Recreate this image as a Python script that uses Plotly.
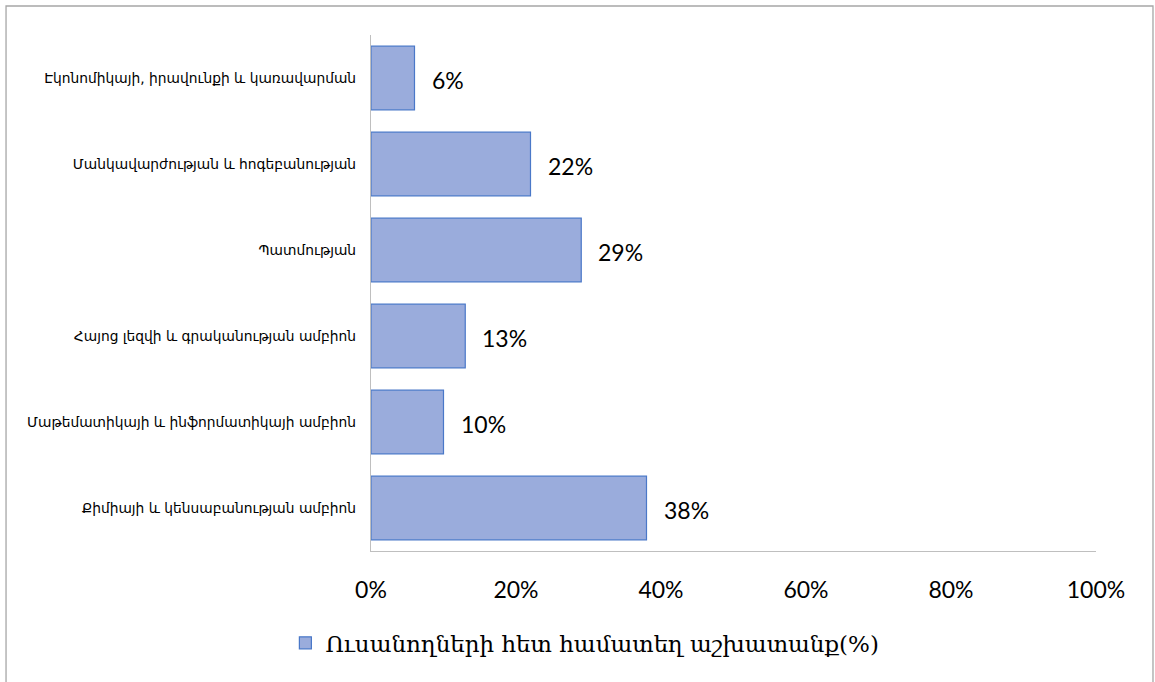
import plotly.graph_objects as go

categories = [
    "Էկոնոմիկայի, իրավունքի և կառավարման",
    "Մանկավարժության և հոգեբանության",
    "Պատմության",
    "Հայոց լեզվի և գրականության ամբիոն",
    "Մաթեմատիկայի և ինֆորմատիկայի ամբիոն",
    "Քիմիայի և կենսաբանության ամբիոն",
]
values = [0.06, 0.22, 0.29, 0.13, 0.10, 0.38]
value_labels = ["6%", "22%", "29%", "13%", "10%", "38%"]
series_name = "Ուսանողների հետ համատեղ աշխատանք(%)"
x_ticks = [0, 0.2, 0.4, 0.6, 0.8, 1.0]
x_tick_labels = ["0%", "20%", "40%", "60%", "80%", "100%"]

fig = go.Figure()
fig.add_trace(go.Bar(
    y=categories,
    x=values,
    orientation="h",
    name=series_name,
    marker=dict(color="#9aacdc", line=dict(color="#4a78c8", width=1.2)),
    showlegend=True,
    hoverinfo="skip",
))

for c, v, t in zip(categories, values, value_labels):
    fig.add_annotation(
        x=v, y=c, text=t, showarrow=False, xanchor="left", xshift=15, yshift=-2,
        font=dict(family="Lato, Open Sans, sans-serif", size=23, color="#000000"),
    )

fig.update_layout(
    width=1155, height=682,
    margin=dict(l=371, r=59, t=35, b=131),
    paper_bgcolor="white", plot_bgcolor="white",
    bargap=0.26,
    xaxis=dict(
        range=[0, 1], tickvals=x_ticks, ticktext=x_tick_labels,
        showgrid=False, zeroline=False, showline=True, linecolor="#bfbfbf", linewidth=1.3,
        ticks="", ticklabelstandoff=18,
        tickfont=dict(family="Lato, Open Sans, sans-serif", size=23, color="#000000"),
        fixedrange=True,
    ),
    yaxis=dict(
        autorange="reversed", showgrid=False, zeroline=False, showline=True,
        linecolor="#bfbfbf", linewidth=1.3, ticks="", ticklabelstandoff=11,
        tickfont=dict(family="DejaVu Sans, sans-serif", size=13.8, color="#000000"),
        fixedrange=True,
    ),
    legend=dict(
        orientation="h", x=0.295, xanchor="center", y=-0.178, yanchor="middle",
        font=dict(family="DejaVu Serif, serif", size=23, color="#000000"),
        itemwidth=30, bgcolor="rgba(0,0,0,0)",
    ),
    shapes=[dict(
        type="rect", xref="paper", yref="paper",
        x0=-0.5034, x1=1.0786, y0=-0.3, y1=1.0562,
        line=dict(color="#a6a6a6", width=1.3), fillcolor="rgba(0,0,0,0)", layer="below",
    )],
)

fig.write_html(
    "out.html",
    config={"displayModeBar": False},
    post_script="document.body.style.margin='0';",
)
